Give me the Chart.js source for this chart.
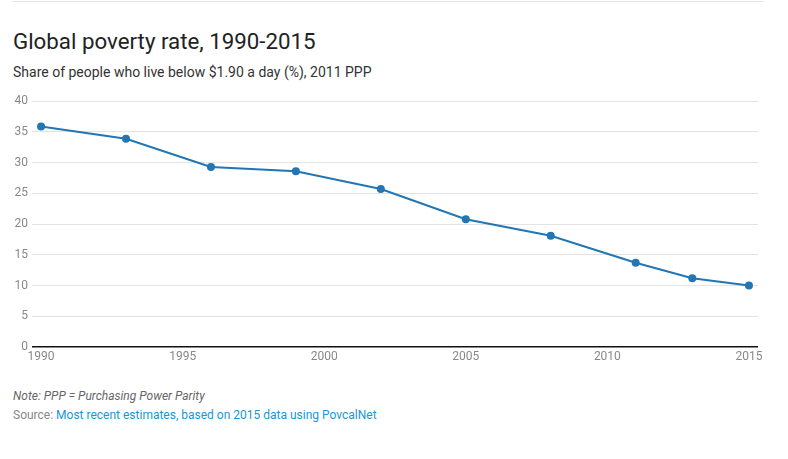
<!DOCTYPE html>
<html><head><meta charset="utf-8">
<script src="https://cdn.jsdelivr.net/npm/chart.js@4"></script>
<style>
html,body{margin:0;padding:0;background:#fff;width:788px;height:459px;overflow:hidden;font-family:Roboto,"Liberation Sans",sans-serif;}
#rule{position:absolute;left:13px;top:1px;width:750px;height:0;border-top:1px solid #e2e2e2;}
#title{position:absolute;left:13px;top:28px;font-size:22.3px;color:#222;white-space:nowrap;}
#sub{position:absolute;left:13px;top:64px;font-size:14px;color:#333;white-space:nowrap;}
#wrap{position:absolute;left:0;top:90px;width:788px;height:282px;}
#note{position:absolute;left:13px;top:389px;font-size:12px;font-style:italic;color:#666;white-space:nowrap;}
#src{position:absolute;left:13px;top:408px;font-size:12px;color:#888;white-space:nowrap;}
#src a{color:#1a96d4;text-decoration:none;}
</style></head>
<body>
<div id="rule"></div>
<div id="title">Global poverty rate, 1990-2015</div>
<div id="sub">Share of people who live below $1.90 a day (%), 2011 PPP</div>
<div id="wrap"><canvas id="c" width="788" height="282"></canvas></div>
<div id="note">Note: PPP = Purchasing Power Parity</div>
<div id="src">Source: <a>Most recent estimates, based on 2015 data using PovcalNet</a></div>
<script>
const years = [1990, 1993, 1996, 1999, 2002, 2005, 2008, 2011, 2013, 2015];
const povertyRate = [35.9, 33.9, 29.3, 28.6, 25.7, 20.8, 18.1, 13.7, 11.2, 10.0];
const xTicks = [1990, 1995, 2000, 2005, 2010, 2015];
const yTicks = [0, 5, 10, 15, 20, 25, 30, 35, 40];

const lineColor = '#2276b4';
new Chart(document.getElementById('c'), {
  type: 'line',
  data: {
    datasets: [{
      data: years.map((y, i) => ({x: y, y: povertyRate[i]})),
      borderColor: lineColor,
      backgroundColor: lineColor,
      borderWidth: 2,
      pointRadius: 4,
      pointHoverRadius: 4,
      pointBorderWidth: 0,
      tension: 0
    }]
  },
  options: {
    responsive: false,
    animation: false,
    layout: {padding: {top: 10, right: 30, bottom: 0, left: 0}},
    plugins: {legend: {display: false}, tooltip: {enabled: false}},
    scales: {
      x: {
        type: 'linear',
        min: 1989.68,
        max: 2015.32,
        afterBuildTicks: s => { s.ticks = xTicks.map(v => ({value: v})); },
        afterFit: s => { s.height = 25; },
        grid: {display: false, drawTicks: false},
        border: {display: false},
        ticks: {
          padding: 3,
          maxRotation: 0,
          autoSkip: false,
          color: '#888',
          font: {family: 'Roboto', size: 12},
          callback: v => String(v)
        }
      },
      y: {
        min: 0,
        max: 40,
        afterBuildTicks: s => { s.ticks = yTicks.map(v => ({value: v})); },
        afterFit: s => { s.width = 32; },
        grid: {
          drawTicks: false,
          color: c => c.tick && c.tick.value === 0 ? '#111' : '#e3e3e3',
          lineWidth: c => c.tick && c.tick.value === 0 ? 1.6 : 1
        },
        border: {display: false},
        ticks: {
          padding: 4,
          color: '#888',
          font: {family: 'Roboto', size: 12}
        }
      }
    }
  }
});
</script>
</body></html>
